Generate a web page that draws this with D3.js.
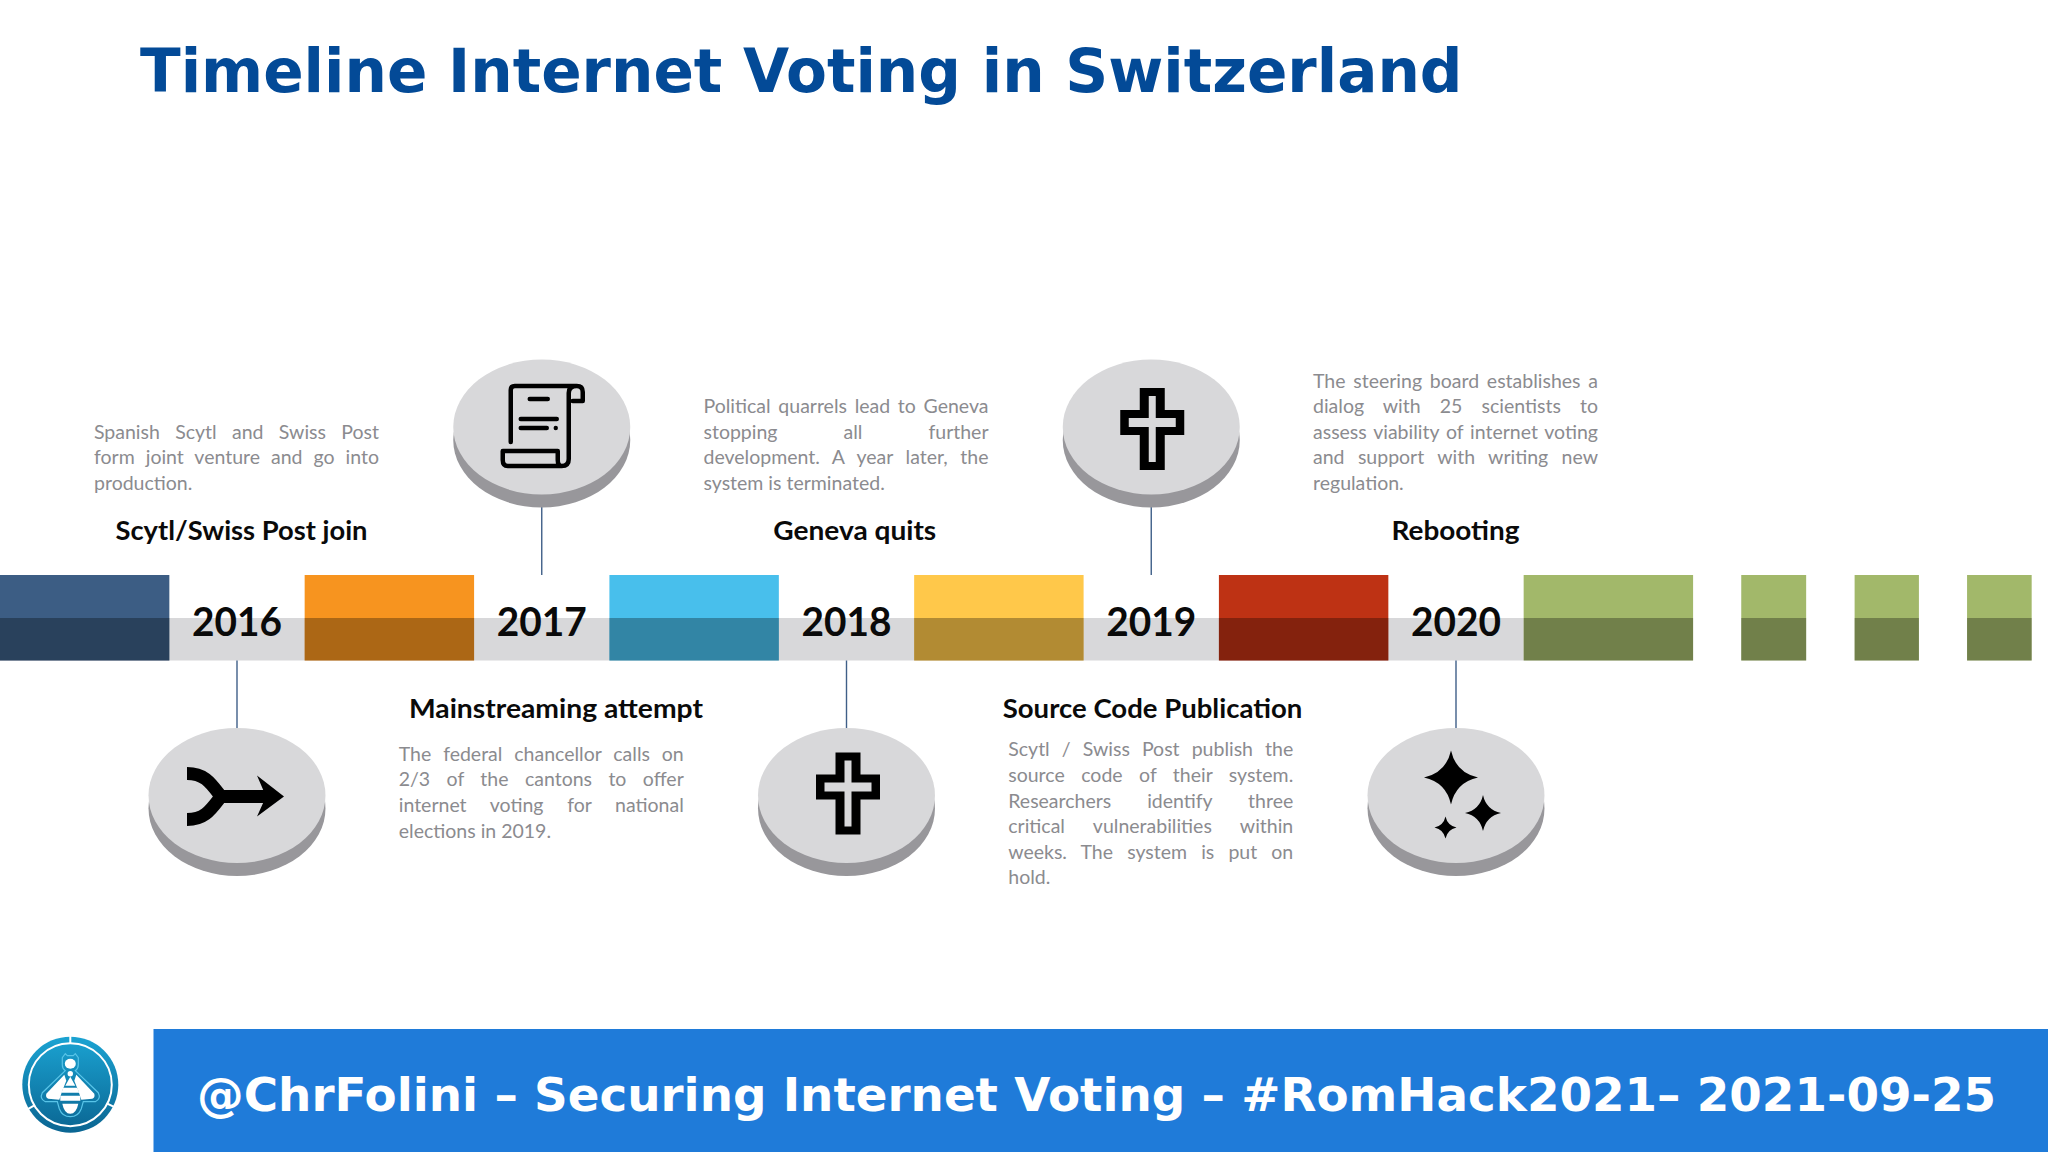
<!DOCTYPE html>
<html>
<head>
<meta charset="utf-8">
<style>
  html, body { margin: 0; padding: 0; background: #fff; }
  svg { display: block; }
</style>
<script src="https://cdn.jsdelivr.net/npm/d3@7/dist/d3.min.js"></script>
</head>
<body>
<svg id="chart" width="2048" height="1152"></svg>
<script>
const years = [2016, 2017, 2018, 2019, 2020];
const headings = ['Scytl/Swiss Post join', 'Mainstreaming attempt', 'Geneva quits', 'Source Code Publication', 'Rebooting'];
const bodies = [
  ['Spanish Scytl and Swiss Post', 'form joint venture and go into', 'production.'],
  ['The federal chancellor calls on', '2/3 of the cantons to offer', 'internet voting for national', 'elections in 2019.'],
  ['Political quarrels lead to Geneva', 'stopping all further', 'development. A year later, the', 'system is terminated.'],
  ['Scytl / Swiss Post publish the', 'source code of their system.', 'Researchers identify three', 'critical vulnerabilities within', 'weeks. The system is put on', 'hold.'],
  ['The steering board establishes a', 'dialog with 25 scientists to', 'assess viability of internet voting', 'and support with writing new', 'regulation.']
];
const icons = ['merge', 'scroll', 'cross', 'cross', 'sparkles'];

// bar extents on the year axis
const barStarts = [2015.222, 2016.222, 2017.222, 2018.222, 2019.222, 2020.222, 2020.936, 2021.308, 2021.677];
const barEnds = [2015.778, 2016.778, 2017.778, 2018.778, 2019.778, 2020.778, 2021.149, 2021.519, 2021.889];
const barColors = ['#3c5d84', '#f7941f', '#48bfec', '#ffc84a', '#be3214', '#a2b86a', '#a2b86a', '#a2b86a', '#a2b86a'];

const titleText = 'Timeline Internet Voting in Switzerland';
const footerText = '@ChrFolini – Securing Internet Voting – #RomHack2021– 2021-09-25';

const svg = d3.select('#chart');
const x = d3.scaleLinear().domain([2016, 2020]).range([237, 1456]);

const barTop = 575, barMid = 618, barBottom = 660.5;
const bandColor = '#d8d8da';
const bodyFont = 'Lato, Carlito, sans-serif';
const blockWidth = 285, lineHeight = 25.6;

// --- Title + footer ---
svg.append('text')
  .attr('x', 140).attr('y', 92)
  .attr('font-family', 'DejaVu Sans').attr('font-weight', 700).attr('font-size', 60.5)
  .attr('fill', '#034a97')
  .attr('textLength', 1322.5).attr('lengthAdjust', 'spacingAndGlyphs')
  .text(titleText);

svg.append('rect')
  .attr('x', 153.5).attr('y', 1029).attr('width', 2048 - 153.5).attr('height', 123)
  .attr('fill', '#1f7bd9');

svg.append('text')
  .attr('x', 197).attr('y', 1110.5)
  .attr('font-family', 'DejaVu Sans').attr('font-weight', 700).attr('font-size', 47)
  .attr('fill', '#fff')
  .attr('textLength', 1799).attr('lengthAdjust', 'spacingAndGlyphs')
  .text(footerText);

// --- Timeline band and bars ---
svg.append('rect')
  .attr('x', 0).attr('y', barMid)
  .attr('width', x(barStarts[5])).attr('height', barBottom - barMid)
  .attr('fill', bandColor);

const bars = svg.append('g').selectAll('g')
  .data(barStarts.map((s, i) => ({ start: s, end: barEnds[i], color: barColors[i] })))
  .join('g');

bars.append('rect')
  .attr('x', d => x(d.start)).attr('y', barTop)
  .attr('width', d => x(d.end) - x(d.start)).attr('height', barBottom - barTop)
  .attr('fill', d => d.color);

bars.append('rect')
  .attr('x', d => x(d.start)).attr('y', barMid)
  .attr('width', d => x(d.end) - x(d.start)).attr('height', barBottom - barMid)
  .attr('fill', '#000').attr('opacity', 0.3);

svg.append('g').selectAll('text')
  .data(years)
  .join('text')
  .attr('x', d => x(d)).attr('y', 636)
  .attr('text-anchor', 'middle')
  .attr('font-family', bodyFont).attr('font-weight', 700).attr('font-size', 41)
  .attr('fill', '#0a0a0a')
  .attr('textLength', 90).attr('lengthAdjust', 'spacingAndGlyphs')
  .text(d => d);

// --- Icons, drawn around the disc centre ---
function drawIcon(g, name, above) {
  if (name === 'merge') {
    g.append('path')
      .attr('d', 'M-50,-22 C-32,-22 -26,-12 -16,1 C-26,14 -32,24 -50,24 M-16,1 H32')
      .attr('fill', 'none').attr('stroke', '#000').attr('stroke-width', 13);
    g.append('path').attr('d', 'M20,-20 L47,1 L20,21 L29,1 Z').attr('fill', '#000');
  } else if (name === 'scroll') {
    g.append('path')
      .attr('d', 'M-31,15 V-37 Q-31,-41 -27,-41 H35 Q41,-41 41,-35 V-26 H31 M35,-41 Q27,-41 27,-34 V32 Q27,39 20,39 H-34 Q-39,39 -39,33 V24 H16 V33 Q16,39 20,39 M-12,-28 H6 M-21,-8 H15 M-21,1 H5')
      .attr('fill', 'none').attr('stroke', '#000').attr('stroke-width', 4.5)
      .attr('stroke-linecap', 'round').attr('stroke-linejoin', 'round');
    g.append('circle').attr('cx', 14).attr('cy', 1).attr('r', 2.2).attr('fill', '#000');
  } else if (name === 'cross') {
    g.append('path')
      .attr('fill-rule', 'evenodd').attr('fill', '#000')
      .attr('transform', above ? 'translate(1,1)' : 'translate(1.5,-3)')
      .attr('d', 'M-12.5,-40 H12.5 V-18 H32 V7 H12.5 V42 H-12.5 V7 H-32 V-18 H-12.5 Z ' +
        'M-3.5,-32 V-10 H-23.5 V-1 H-3.5 V34 H3.5 V-1 H23.5 V-10 H3.5 V-32 Z');
  } else if (name === 'sparkles') {
    const star = 'M0,-1 Q.18,-.18 1,0 Q.18,.18 0,1 Q-.18,.18 -1,0 Q-.18,-.18 0,-1 Z';
    [[-5, -18, 27], [27, 17.5, 18], [-10.5, 32, 11]].forEach(([dx, dy, r]) => {
      g.append('path').attr('d', star).attr('fill', '#000')
        .attr('transform', `translate(${dx},${dy}) scale(${r})`);
    });
  }
}

// --- Events: stem, disc, heading, justified text ---
const headingCenters = [241.5, 556, 854.7, 1152.5, 1455.5];
const headingWidths = [252, 294, 163, 299.5, 128];

years.forEach((year, i) => {
  const above = i % 2 === 1; // disc sits above the band for odd events
  const cx = x(year);
  const cy = above ? 427 : 795.5;

  svg.append('line')
    .attr('x1', cx).attr('x2', cx)
    .attr('y1', above ? 500 : 660.5).attr('y2', above ? barTop : 735)
    .attr('stroke', '#3f5f88').attr('stroke-width', 1.4);

  const disc = svg.append('g').attr('transform', `translate(${cx},${cy})`);
  disc.append('ellipse').attr('cy', 13).attr('rx', 88.5).attr('ry', 67.5).attr('fill', '#98979b');
  disc.append('ellipse').attr('rx', 88.5).attr('ry', 67.5).attr('fill', bandColor);
  const iconG = disc.append('g');
  drawIcon(iconG, icons[i], above);

  svg.append('text')
    .attr('x', headingCenters[i]).attr('y', above ? 718 : 540)
    .attr('text-anchor', 'middle')
    .attr('font-family', bodyFont).attr('font-weight', 700).attr('font-size', 27.5)
    .attr('fill', '#0a0a0a')
    .attr('textLength', headingWidths[i]).attr('lengthAdjust', 'spacingAndGlyphs')
    .text(headings[i]);

  const lines = bodies[i];
  const firstBaseline = above
    ? (lines.length > 4 ? 756.4 : 760.7)
    : 490 - (lines.length - 1) * lineHeight;

  lines.forEach((line, j) => {
    const t = svg.append('text')
      .attr('x', cx - blockWidth / 2 - 0.5)
      .attr('y', firstBaseline + j * lineHeight)
      .attr('font-family', bodyFont).attr('font-size', 19.5)
      .attr('fill', '#8b8b8f')
      .text(line);
    // justify every line but the last
    if (j < lines.length - 1) {
      const gaps = line.split(' ').length - 1;
      const spare = blockWidth - t.node().getComputedTextLength();
      t.attr('word-spacing', spare / gaps);
    }
  });
});

// --- Logo ---
const logo = svg.append('g').attr('transform', 'translate(70.3,1084.7)');
const grad = svg.append('defs').append('linearGradient')
  .attr('id', 'logoGrad').attr('x1', 0).attr('x2', 0).attr('y1', 0).attr('y2', 1);
grad.append('stop').attr('offset', 0).attr('stop-color', '#1ba3d2');
grad.append('stop').attr('offset', 1).attr('stop-color', '#0a6592');

logo.append('circle').attr('r', 48).attr('fill', 'url(#logoGrad)');
logo.append('circle').attr('r', 41.5).attr('fill', 'none').attr('stroke', '#fff').attr('stroke-width', 2);
[0, 117, 240].forEach(angle => {
  logo.append('line')
    .attr('y1', -41).attr('y2', -49)
    .attr('transform', `rotate(${angle})`)
    .attr('stroke', '#fff').attr('stroke-width', 2);
});
logo.append('path')
  .attr('d', 'M-5,-31 L-3,-29 H3 L5,-31 L8,-27 V-20 Q8,-16 5,-14 L28,8 Q31,14 25,17 L13,17 L11,24 Q8,32 0,32 Q-8,32 -11,24 L-13,17 L-25,17 Q-31,14 -28,8 L-5,-14 Q-8,-16 -8,-20 V-27 Z')
  .attr('fill', 'none').attr('stroke', '#58c4e8').attr('stroke-width', 1.2);
logo.append('ellipse').attr('cy', -21).attr('rx', 5.5).attr('ry', 5).attr('fill', '#fff');
logo.append('circle').attr('cy', -11).attr('r', 2.7).attr('fill', '#fff');
logo.append('path').attr('d', 'M-6,-10 L-24,9 Q-25,13 -22,14 L-11,15 L-8,6 L-4,-4 Z M6,-10 L24,9 Q25,13 22,14 L11,15 L8,6 L4,-4 Z').attr('fill', '#fff');
logo.append('path').attr('d', 'M0,-8 L5,1 H-5 Z M-7,3 H7 L9,8 H-9 Z M-10,11 H10 L10,16 H-10 Z M-8,19 H8 Q6,29 0,29 Q-6,29 -8,19 Z').attr('fill', '#fff');
</script>
</body>
</html>
